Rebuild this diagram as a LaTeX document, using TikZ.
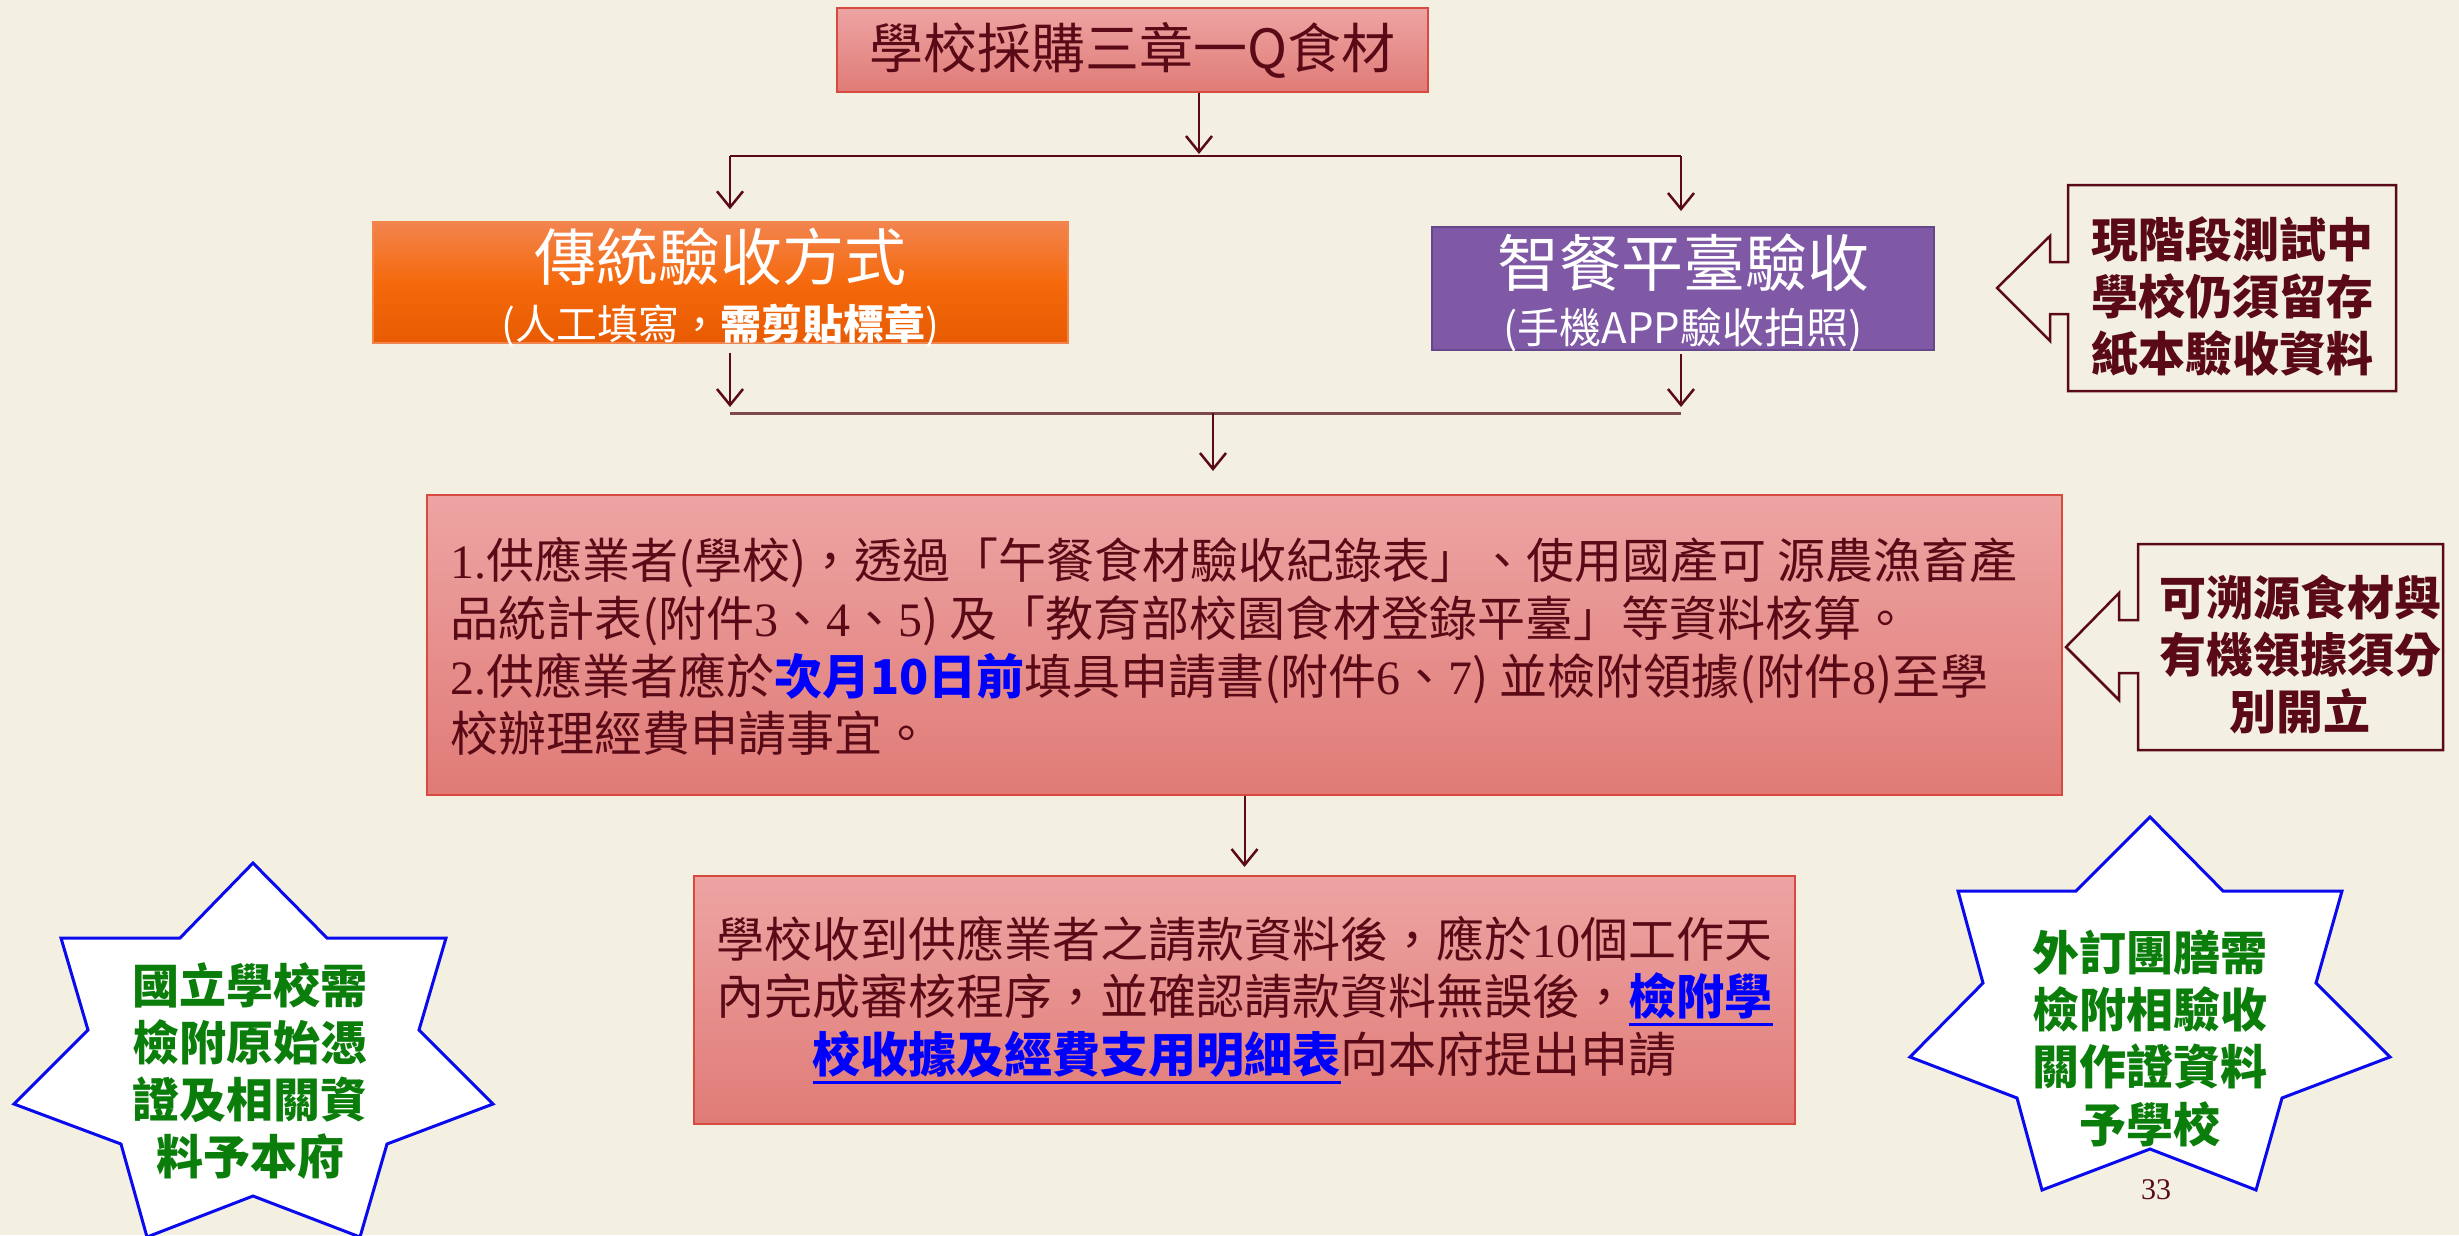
\documentclass[tikz,border=0pt]{standalone}
\usepackage{fontspec}
\setmainfont{Noto Sans CJK TC}
\newfontfamily\serifnum{Liberation Serif}
\usetikzlibrary{arrows.meta}
\definecolor{bg}{HTML}{F4F0E1}
\definecolor{maroon}{HTML}{5A0A16}
\definecolor{joinc}{HTML}{7B4B4B}
\definecolor{pinktop}{HTML}{EDA4A3}
\definecolor{pinkbot}{HTML}{E07B77}
\definecolor{pinkedge}{HTML}{D64A42}
\definecolor{orangetop}{HTML}{F2844E}
\definecolor{orangemid}{HTML}{F5690C}
\definecolor{orangebot}{HTML}{E85B02}
\definecolor{purplefill}{HTML}{7F58A6}
\definecolor{purpleedge}{HTML}{66478C}
\definecolor{starblue}{HTML}{0A0AEE}
\definecolor{stargreen}{HTML}{0A7D0A}
\definecolor{textblue}{HTML}{0000FF}
\newcommand\sn[1]{{\serifnum #1}}
\newcommand\myuline[1]{\leavevmode\setbox0=\hbox{#1}\rlap{\rule[-11.5pt]{\wd0}{3pt}}\box0}
\begin{document}
\begin{tikzpicture}[x=1pt,y=-1pt,
  conn/.style={draw=maroon, line width=2pt},
  arr/.style={conn, -{Straight Barb[length=16pt,width=26pt,line width=2.5pt]}},
  joinline/.style={draw=joinc, line width=3pt},
  pinkbox/.style={draw=pinkedge, line width=2pt, top color=pinktop, bottom color=pinkbot, inner sep=0pt},
  orangebox/.style={draw=orangetop, line width=1.5pt, top color=orangetop, bottom color=orangebot, middle color=orangemid, inner sep=0pt},
  purplebox/.style={draw=purpleedge, line width=2pt, fill=purplefill, inner sep=0pt},
  boxlabel/.style={text=white, align=center, inner sep=0pt},
  callout/.style={draw=maroon, line width=2.5pt},
  calltext/.style={text=maroon, align=center, font=\bfseries\fontsize{47}{57}\selectfont},
  star/.style={draw=starblue, line width=3pt, fill=white},
  startext/.style={text=stargreen, align=center, font=\bfseries\fontsize{47}{57.3}\selectfont},
]
\fill[bg] (0,0) rectangle (2459,1235);
\useasboundingbox (0,0) rectangle (2459,1235);

% top box
\node[pinkbox, minimum width=591pt, minimum height=84pt, text=maroon,
      font=\fontsize{54}{60}\selectfont] (buy) at (1132.5,50) {學校採購三章一Q食材\hspace{25pt}};

% two methods
\node[orangebox, minimum width=695pt, minimum height=121pt] (trad) at (720.5,282.5) {};
\node[boxlabel, font=\fontsize{41}{59}\selectfont] (tradlabel) at (720.5,287.5)
      {{\fontsize{62}{59}\selectfont 傳統驗收方式}\\(人工填寫，\textbf{需剪貼標章})};
\node[purplebox, minimum width=502pt, minimum height=123pt] (smart) at (1683,288.5) {};
\node[boxlabel, font=\fontsize{42}{57.5}\selectfont] (smartlabel) at (1683,293)
      {{\fontsize{62}{57.5}\selectfont 智餐平臺驗收}\\(手機APP驗收拍照)};

% main box
\node[pinkbox, minimum width=1635pt, minimum height=300pt] (mainbox) at (1244.5,645) {};
\node[anchor=west, inner sep=0pt, text=maroon, align=left,
      font=\fontsize{48}{57.7}\selectfont] (maintext) at (450,647)
 {\sn{1.}供應業者(學校)，透過「午餐食材驗收紀錄表」、使用國產可 源農漁畜產\\
  品統計表(附件\sn{3}、\sn{4}、\sn{5}) 及「教育部校園食材登錄平臺」等資料核算。\\
  \sn{2.}供應業者應於{\color{textblue}\bfseries 次月10日前}填具申請書(附件\sn{6}、\sn{7}) 並檢附領據(附件\sn{8})至學\\
  校辦理經費申請事宜。};

% bottom box
\node[pinkbox, minimum width=1101pt, minimum height=248pt, text=maroon, align=center,
      font=\fontsize{48}{57.5}\selectfont] (claim) at (1244.5,1000)
 {學校收到供應業者之請款資料後，應於\sn{10}個工作天\\
  內完成審核程序，並確認請款資料無誤後，{\color{textblue}\bfseries\myuline{檢附學}}\\
  {\color{textblue}\bfseries\myuline{校收據及經費支用明細表}}向本府提出申請};

% connectors
\coordinate (splitM) at (1199,156);
\coordinate (splitL) at (730,156);
\coordinate (splitR) at (1681,156);
\draw[conn] (splitL) -- (splitR);
\draw[arr, shorten >=2pt] (buy.south -| splitM) -- (splitM);
\draw[arr, shorten >=12pt] (splitL) -- (splitL |- trad.north);
\draw[arr, shorten >=15pt] (splitR) -- (splitR |- smart.north);

\coordinate (joinL) at (730,413);
\coordinate (joinR) at (1681,413);
\coordinate (joinM) at (1213,413);
\draw[arr, shorten <=9pt, shorten >=6pt] (trad.south -| joinL) -- (joinL);
\draw[arr, shorten <=3pt, shorten >=6pt] (smart.south -| joinR) -- (joinR);
\draw[joinline] (joinL) -- (joinR);
\draw[arr, shorten >=23pt] (joinM) -- (joinM |- mainbox.north);
\draw[arr, shorten >=8pt] (mainbox.south) -- (claim.north);

% callout 1
\draw[callout] (2068,185) -- (2396,185) -- (2396,391) -- (2068,391) -- (2068,314)
   -- (2050,314) -- (2050,341) -- (1997,288) -- (2050,236) -- (2050,262) -- (2068,262) -- cycle;
\node[calltext] (note1) at (2232,296) {現階段測試中\\學校仍須留存\\紙本驗收資料};

% callout 2
\draw[callout] (2138,544) -- (2443,544) -- (2443,750) -- (2138,750) -- (2138,673)
   -- (2119,673) -- (2119,700) -- (2066,647) -- (2119,593) -- (2119,620) -- (2138,620) -- cycle;
\node[calltext] (note2) at (2300,654) {可溯源食材與\\有機領據須分\\別開立};

% left star
\draw[star] (253,863) -- (327,938) -- (446,938) -- (419,1030) -- (493,1104) -- (387,1144)
   -- (360,1237) -- (253,1196) -- (147,1237) -- (121,1144) -- (14,1104) -- (88,1030)
   -- (61,938) -- (180,938) -- cycle;
\node[startext] (star1) at (250,1071) {國立學校需\\檢附原始憑\\證及相關資\\料予本府};

% right star
\draw[star] (2150,817) -- (2223,891) -- (2342,891) -- (2316,983) -- (2390,1057) -- (2282,1098)
   -- (2256,1190) -- (2150,1149) -- (2042,1190) -- (2017,1098) -- (1910,1057) -- (1983,983)
   -- (1958,891) -- (2076,891) -- cycle;
\node[startext] (star2) at (2150,1038) {外訂團膳需\\檢附相驗收\\關作證資料\\予學校};

\node[text=maroon, font=\serifnum\fontsize{30}{30}\selectfont] (pnum) at (2156,1190) {33};
\end{tikzpicture}
\end{document}
